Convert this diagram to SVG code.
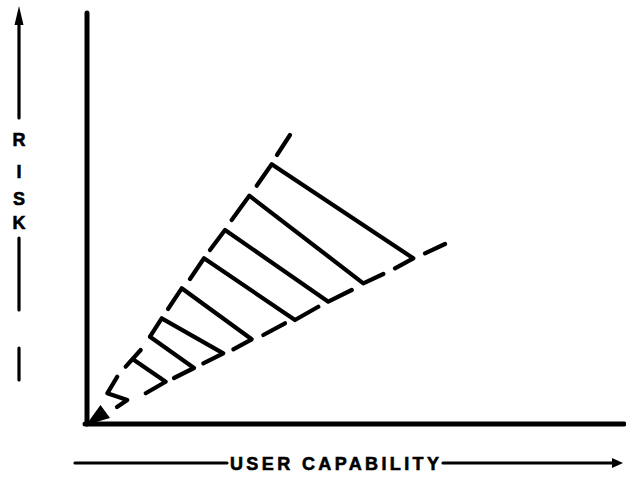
<svg xmlns="http://www.w3.org/2000/svg" width="626" height="495" viewBox="0 0 626 495">
<style>
.ax{stroke:#000;stroke-width:5;fill:none;stroke-linecap:round}
.thin{stroke:#000;stroke-width:3.2;fill:none;stroke-linecap:round}
.w{stroke:#000;stroke-width:4.2;fill:none;stroke-linecap:round;stroke-linejoin:round}
.lbl{font-family:"Liberation Sans",Arial,sans-serif;font-weight:bold;font-size:18px;fill:#000;stroke:#000;stroke-width:0.6}
</style>
<rect width="626" height="495" fill="#fff"/>
<g id="axes">
<line class="ax" x1="87" y1="13" x2="87" y2="424"/>
<line class="ax" x1="85" y1="424" x2="624" y2="424"/>
</g>
<g id="risk-label">
<line class="thin" x1="19" y1="22" x2="19" y2="118"/>
<polygon points="19,6 14.5,25 23.5,25" fill="#000"/>
<text class="lbl" x="19" y="146" text-anchor="middle">R</text>
<text class="lbl" x="19" y="178" text-anchor="middle">I</text>
<text class="lbl" x="19" y="205" text-anchor="middle">S</text>
<text class="lbl" x="19" y="229" text-anchor="middle">K</text>
<line class="thin" x1="19" y1="238" x2="19" y2="310"/>
<line class="thin" x1="19" y1="348" x2="19" y2="380"/>
</g>
<g id="capability-label">
<line class="thin" x1="75" y1="463" x2="227" y2="463"/>
<text class="lbl" x="230" y="470" font-size="19" textLength="209" lengthAdjust="spacing">USER CAPABILITY</text>
<line class="thin" x1="443" y1="463" x2="614" y2="463"/>
<polygon points="623,463 612,458 612,468" fill="#000"/>
</g>
<g id="wedge">
<line class="w" x1="290" y1="135" x2="277" y2="155"/>
<line class="w" x1="425" y1="253.3" x2="445" y2="244"/>
<polyline class="w" points="256.7,185.7 271.7,164.3 413.3,258.3 395,268.3"/>
<polyline class="w" points="231.7,220 249.3,195.7 363.3,283.3 383.3,274"/>
<polyline class="w" points="210,250 225,230 328.3,301.7 351.7,290"/>
<polyline class="w" points="190,279 204,258.3 295,320 318.3,306.7"/>
<line class="w" x1="263.3" y1="335" x2="285" y2="323.3"/>
<polyline class="w" points="168,309 181.7,288.3 251.7,339.3 233.3,349.3"/>
<polyline class="w" points="150,336.7 161.7,318.3 223.3,353.3 203.3,363.3"/>
<polyline class="w" points="150,336.7 194,368 174,378"/>
<line class="w" x1="140.7" y1="350" x2="125.7" y2="366.7"/>
<polyline class="w" points="134,360 165.7,381.7 145.7,393.3"/>
<polyline class="w" points="117.3,376.7 107.3,393.3 127.3,400 117,407"/>
<polygon points="86,425 100.5,405 110,418" fill="#000"/>
</g>
</svg>
